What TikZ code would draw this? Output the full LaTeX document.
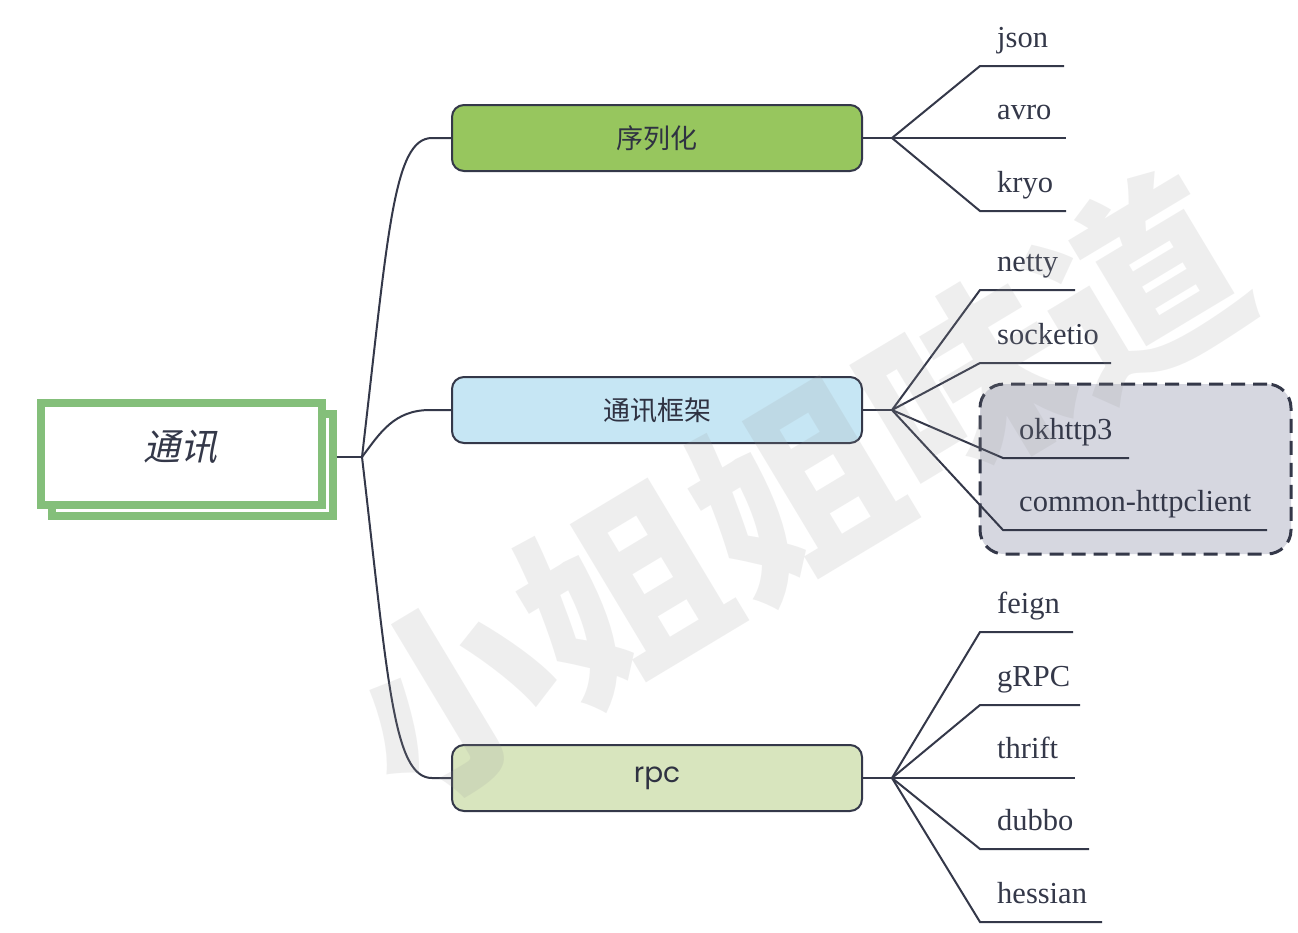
\documentclass[tikz,border=0pt]{standalone}
\usepackage{fontspec}
\setmainfont{Liberation Serif}
\newfontfamily\cjk{Noto Sans CJK SC}
\newfontfamily\cjkit[FakeSlant=0.22]{Noto Sans CJK SC}
\newfontfamily\pop{Poppins}
\definecolor{ink}{HTML}{343849}
\definecolor{rootgreen}{HTML}{84BF7A}
\definecolor{serfill}{HTML}{97C65E}
\definecolor{netfill}{HTML}{C6E6F4}
\definecolor{rpcfill}{HTML}{D8E5BE}
\definecolor{grpfill}{HTML}{D6D7E0}
\tikzset{
  rootbox/.style={draw=rootgreen, line width=8pt, fill=white, minimum width=281pt, minimum height=102pt, inner sep=0pt},
  topicbox/.style={draw=ink, line width=2pt, rounded corners=12pt, minimum width=410pt, minimum height=66pt, inner sep=0pt, font=\cjk\fontsize{27}{30}\selectfont, text=ink!90!black},
  leaf/.style={anchor=base west, inner sep=0pt, font=\fontsize{30.5}{33}\selectfont, text=ink},
  conn/.style={draw=ink, line width=2pt},
  grpbox/.style={draw=ink, line width=3pt, dash pattern=on 14pt off 8pt, rounded corners=24pt, fill=grpfill, minimum width=311pt, minimum height=170pt, inner sep=0pt},
  wmark/.style={font=\cjk\bfseries\fontsize{200}{200}\selectfont, text=black!40, opacity=0.16, rotate=31, inner sep=0pt}
}
\begin{document}
\begin{tikzpicture}[x=1pt,y=-1pt]
\useasboundingbox[fill=white] (0,0) rectangle (1298,932);

% root
\node[rootbox] (rootback) at (192,465) {};
\node[rootbox] (root) at (181.5,454) {};
\node[font=\cjkit\fontsize{37}{40}\selectfont, text=ink] (roottxt) at (180,447) {通讯};

% topic boxes
\node[topicbox, fill=serfill] (ser) at (657,138) {序列化};
\node[topicbox, fill=netfill] (net) at (657,410) {通讯框架};
\node[topicbox, fill=rpcfill, font=\pop\fontsize{28}{30}\selectfont] (rpc) at (657,778) {rpc};

% group box
\node[grpbox] (grp) at (1135.5,469) {};

% hub connectors
\coordinate (hub) at (362,457);
\draw[conn] (rootback.east |- hub) -- (hub);
\draw[conn] (hub) .. controls (388,235) and (393,138) .. (432,138) -- (ser.west);
\draw[conn] (hub) .. controls (380,433) and (394,410) .. (430,410) -- (net.west);
\draw[conn] (hub) .. controls (388,680) and (393,778) .. (432,778) -- (rpc.west);

% forks
\coordinate (f1) at (892,138);
\coordinate (f2) at (892,410);
\coordinate (f3) at (892,778);
\draw[conn] (ser.east) -- (f1);
\draw[conn] (net.east) -- (f2);
\draw[conn] (rpc.east) -- (f3);

% serialization leaves
\coordinate (jsonA) at (980,66);   \coordinate (jsonB) at (1064,66);
\coordinate (avroA) at (980,138);  \coordinate (avroB) at (1066,138);
\coordinate (kryoA) at (980,211);  \coordinate (kryoB) at (1066,211);
\draw[conn] (f1) -- (jsonA) -- (jsonB);
\draw[conn] (f1) -- (avroA) -- (avroB);
\draw[conn] (f1) -- (kryoA) -- (kryoB);
\node[leaf] (json) at (997,47) {json};
\node[leaf] (avro) at (997,119) {avro};
\node[leaf] (kryo) at (997,192) {kryo};

% framework leaves
\coordinate (nettyA) at (980,290);  \coordinate (nettyB) at (1075,290);
\coordinate (sockA) at (980,363);   \coordinate (sockB) at (1111,363);
\coordinate (okA) at (1003,458);    \coordinate (okB) at (1129,458);
\coordinate (comA) at (1003,530);   \coordinate (comB) at (1267,530);
\draw[conn] (f2) -- (nettyA) -- (nettyB);
\draw[conn] (f2) -- (sockA) -- (sockB);
\draw[conn] (f2) -- (okA) -- (okB);
\draw[conn] (f2) -- (comA) -- (comB);
\node[leaf] (netty) at (997,271) {netty};
\node[leaf] (sock) at (997,344) {socketio};
\node[leaf] (ok) at (1019,439) {okhttp3};
\node[leaf] (com) at (1019,511) {common-httpclient};

% rpc leaves
\coordinate (feignA) at (980,632);  \coordinate (feignB) at (1073,632);
\coordinate (grpcA) at (980,705);   \coordinate (grpcB) at (1080,705);
\coordinate (thriftA) at (980,778); \coordinate (thriftB) at (1075,778);
\coordinate (dubboA) at (980,849);  \coordinate (dubboB) at (1089,849);
\coordinate (hesA) at (980,922);    \coordinate (hesB) at (1102,922);
\draw[conn] (f3) -- (feignA) -- (feignB);
\draw[conn] (f3) -- (grpcA) -- (grpcB);
\draw[conn] (f3) -- (thriftA) -- (thriftB);
\draw[conn] (f3) -- (dubboA) -- (dubboB);
\draw[conn] (f3) -- (hesA) -- (hesB);
\node[leaf] (feign) at (997,613) {feign};
\node[leaf] (grpc) at (997,686) {gRPC};
\node[leaf] (thrift) at (997,758) {thrift};
\node[leaf] (dubbo) at (997,830) {dubbo};
\node[leaf] (hes) at (997,903) {hessian};

% watermark
\node[wmark] (wm) at (795,490) {小姐姐味道};
\end{tikzpicture}
\end{document}
